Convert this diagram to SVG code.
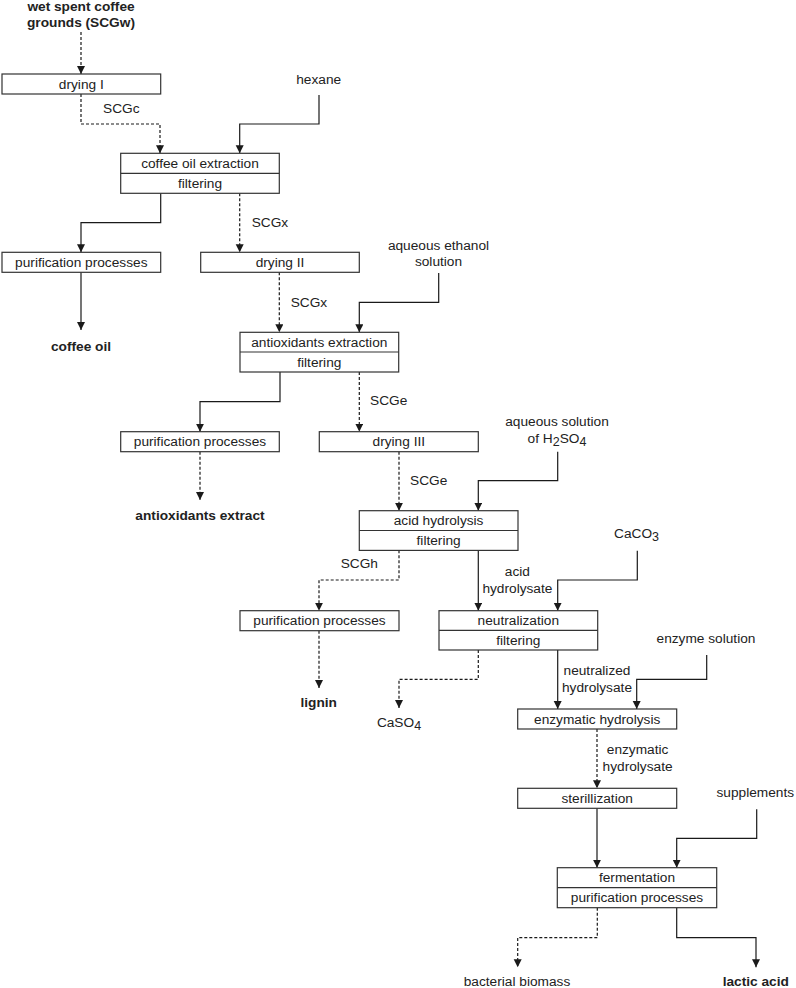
<svg xmlns="http://www.w3.org/2000/svg" width="796" height="988" viewBox="0 0 796 988">
<style>
text{font-family:"Liberation Sans",Arial,sans-serif;font-size:13.7px;fill:#222;text-anchor:middle}
.b{font-weight:bold}
.l{text-anchor:start}
.box{fill:#fff;stroke:#333;stroke-width:1.2}
.c{fill:none;stroke:#1a1a1a;stroke-width:1.2;marker-end:url(#ah)}
.d{stroke-dasharray:3 2}
</style>
<defs>
<marker id="ah" markerUnits="userSpaceOnUse" markerWidth="9" markerHeight="9" refX="8" refY="4" orient="auto">
<path d="M0,0 L8,4 L0,8 z" fill="#1a1a1a"/>
</marker>
</defs>
<rect width="796" height="988" fill="#fff"/>
<g id="connectors">
<path class="c d" d="M81,32 V74"/>
<path class="c d" d="M81,94 V124 H160 V153.3"/>
<path class="c" d="M319,95 V124 H239.7 V153.3"/>
<path class="c" d="M160.7,193.3 V222.7 H81 V252.3"/>
<path class="c d" d="M239.7,193.3 V252.3"/>
<path class="c" d="M81,272.3 V330"/>
<path class="c d" d="M279.3,272.3 V332.3"/>
<path class="c" d="M438.7,273 V302.3 H359.3 V332.3"/>
<path class="c" d="M280,372 V401.7 H200 V431.7"/>
<path class="c d" d="M359.3,372 V431.7"/>
<path class="c d" d="M200,451.7 V500"/>
<path class="c d" d="M399,451.7 V510.7"/>
<path class="c" d="M557.7,451.7 V480.7 H478.3 V510.7"/>
<path class="c d" d="M399,550.3 V580 H319 V610.7"/>
<path class="c" d="M478.3,550.3 V610.7"/>
<path class="c" d="M637.3,550.7 V580 H557.7 V610.7"/>
<path class="c d" d="M319,630.7 V688"/>
<path class="c d" d="M478.3,650 V679.3 H399 V708"/>
<path class="c" d="M557.7,650 V709"/>
<path class="c" d="M706.7,655 V679.3 H636.7 V709"/>
<path class="c d" d="M597,729 V788.3"/>
<path class="c" d="M597,808.3 V867.7"/>
<path class="c" d="M756.7,809.3 V838.3 H676.7 V867.7"/>
<path class="c d" d="M597.3,907.7 V937.7 H517.7 V967.3"/>
<path class="c" d="M676.7,907.7 V937.7 H756 V967.3"/>
</g>
<g id="labels">
<text x="103" y="112.5" class="l">SCGc</text>
<text x="251.7" y="226.5" class="l">SCGx</text>
<text x="290.7" y="306.5" class="l">SCGx</text>
<text x="370" y="405" class="l">SCGe</text>
<text x="410" y="485" class="l">SCGe</text>
<text x="340.7" y="568.3" class="l">SCGh</text>
<text x="517.4" y="576">acid</text>
<text x="517.4" y="592.7">hydrolysate</text>
<text x="597" y="675">neutralized</text>
<text x="597" y="691.7">hydrolysate</text>
<text x="637.6" y="754">enzymatic</text>
<text x="637.6" y="770.7">hydrolysate</text>
</g>
<g id="inputs">
<text class="b" x="81" y="11">wet spent coffee</text>
<text class="b" x="81" y="27">grounds (SCGw)</text>
<text x="318.7" y="84">hexane</text>
<text x="438.5" y="250">aqueous ethanol</text>
<text x="438.5" y="266">solution</text>
<text x="557" y="426">aqueous solution</text>
<text x="557" y="442.7">of H<tspan font-size="12.5" dy="3">2</tspan><tspan dy="-3">SO</tspan><tspan font-size="12.5" dy="3">4</tspan></text>
<text x="636.5" y="538">CaCO<tspan font-size="12.5" dy="3">3</tspan></text>
<text x="706" y="643">enzyme solution</text>
<text x="755.3" y="797">supplements</text>
</g>
<g id="outputs">
<text class="b" x="81" y="351">coffee oil</text>
<text class="b" x="200" y="520">antioxidants extract</text>
<text class="b" x="318.7" y="707.3">lignin</text>
<text x="399" y="727.3">CaSO<tspan font-size="12.5" dy="3">4</tspan></text>
<text x="517" y="986">bacterial biomass</text>
<text class="b" x="755.8" y="986">lactic acid</text>
</g>
<g id="drying-I"><rect class="box" x="2" y="74" width="158.7" height="20"/><text x="81.3" y="88.5">drying I</text></g>
<g id="coffee-oil-extraction"><rect class="box" x="120.7" y="153.3" width="158.6" height="40"/><line x1="120.7" y1="173.3" x2="279.3" y2="173.3" stroke="#333" stroke-width="1.2"/><text x="200" y="168">coffee oil extraction</text><text x="200" y="188">filtering</text></g>
<g id="purification-1"><rect class="box" x="2" y="252.3" width="158.7" height="20"/><text x="81.3" y="267">purification processes</text></g>
<g id="drying-II"><rect class="box" x="200.7" y="252.3" width="158.6" height="20"/><text x="280" y="267">drying II</text></g>
<g id="antioxidants-extraction"><rect class="box" x="240" y="332.3" width="158.7" height="39.7"/><line x1="240" y1="352" x2="398.7" y2="352" stroke="#333" stroke-width="1.2"/><text x="319.3" y="346.8">antioxidants extraction</text><text x="319.3" y="366.6">filtering</text></g>
<g id="purification-2"><rect class="box" x="120.7" y="431.7" width="158.6" height="20"/><text x="200" y="446.3">purification processes</text></g>
<g id="drying-III"><rect class="box" x="319.3" y="431.7" width="159" height="20"/><text x="398.8" y="446.3">drying III</text></g>
<g id="acid-hydrolysis"><rect class="box" x="359.3" y="510.7" width="158.7" height="39.7"/><line x1="359.3" y1="530.5" x2="518" y2="530.5" stroke="#333" stroke-width="1.2"/><text x="438.6" y="525.2">acid hydrolysis</text><text x="438.6" y="545">filtering</text></g>
<g id="purification-3"><rect class="box" x="240" y="610.7" width="159" height="20"/><text x="319.5" y="625.3">purification processes</text></g>
<g id="neutralization"><rect class="box" x="439" y="610.7" width="158.7" height="39.3"/><line x1="439" y1="630.3" x2="597.7" y2="630.3" stroke="#333" stroke-width="1.2"/><text x="518.3" y="625.2">neutralization</text><text x="518.3" y="644.8">filtering</text></g>
<g id="enzymatic-hydrolysis"><rect class="box" x="517.7" y="709" width="159" height="20"/><text x="597.2" y="723.6">enzymatic hydrolysis</text></g>
<g id="sterilization"><rect class="box" x="517.7" y="788.3" width="159" height="20"/><text x="597.2" y="802.9">sterillization</text></g>
<g id="fermentation"><rect class="box" x="557.3" y="867.7" width="159.4" height="40"/><line x1="557.3" y1="887.7" x2="716.7" y2="887.7" stroke="#333" stroke-width="1.2"/><text x="637" y="882.3">fermentation</text><text x="637" y="902.3">purification processes</text></g>
</svg>
